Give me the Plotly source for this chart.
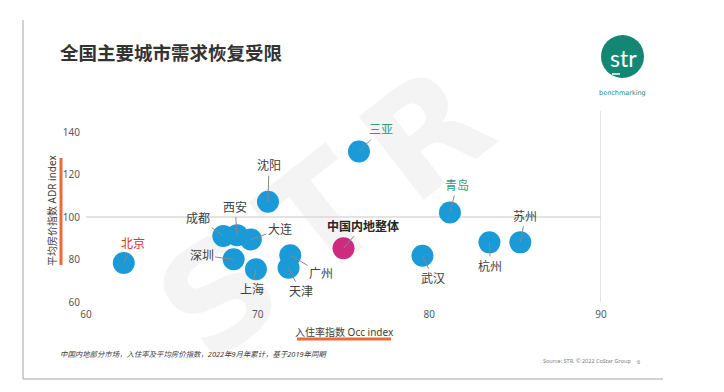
import base64
import plotly.graph_objects as go

# ---------------- data ----------------
cities = ["北京", "成都", "西安", "大连", "深圳", "上海", "沈阳", "广州", "天津",
          "中国内地整体", "三亚", "武汉", "青岛", "杭州", "苏州"]
occ_index = [62.2, 68.0, 68.8, 69.6, 68.6, 69.9, 70.6, 71.9, 71.8,
             75.0, 75.9, 79.6, 81.2, 83.5, 85.3]
adr_index = [78.4, 91.1, 91.5, 89.5, 80.1, 75.4, 107.2, 82.0, 76.1,
             85.3, 130.9, 81.8, 102.2, 88.1, 88.1]
x_ticks = [60, 70, 80, 90]
y_ticks = [60, 80, 100, 120, 140]

title = "全国主要城市需求恢复受限"
x_title = "入住率指数 Occ index"
y_title = "平均房价指数 ADR index"
footnote = "中国内地部分市场，入住率及平均房价指数，2022年9月年累计，基于2019年同期"
source = "Source: STR. © 2022 CoStar Group"

# ---------------- styles / layout ----------------
W, H = 724, 392
L, R, T, B = 86, 123, 111, 90
PW, PH = W - L - R, H - T - B

BLUE = "#1A9AD6"
MAGENTA = "#CF2A7E"
TEAL = "#2E9E86"
RED = "#E8332A"
ORANGE = "#EC6A37"
TXT = "#404040"
FONT = "Noto Sans, Noto Sans CJK SC, sans-serif"

# label offsets in pixels (ax, ay) and style
label_style = {
    "北京": (9, -19, RED, False),
    "成都": (-25, -18, TXT, False),
    "西安": (-2, -28, TXT, False),
    "大连": (29, -10, TXT, False),
    "深圳": (-32, -4, TXT, False),
    "上海": (-4, 20, TXT, False),
    "沈阳": (1, -36, TXT, False),
    "广州": (31, 18, TXT, False),
    "天津": (12, 24, TXT, False),
    "中国内地整体": (19, -22, "#262626", True),
    "三亚": (22, -22, TEAL, False),
    "武汉": (11, 23, TXT, False),
    "青岛": (7, -27, TEAL, False),
    "杭州": (1, 24, TXT, False),
    "苏州": (5, -26, TXT, False),
}


def px(xp):
    return (xp - L) / PW


def py(yp):
    return (H - B - yp) / PH


colors = [MAGENTA if c == "中国内地整体" else BLUE for c in cities]

fig = go.Figure()
fig.add_trace(go.Scatter(
    x=occ_index, y=adr_index, mode="markers",
    marker=dict(size=22, color=colors, line=dict(width=0), opacity=1),
    hoverinfo="text", text=cities, showlegend=False,
))

annotations = []
for c, xv, yv in zip(cities, occ_index, adr_index):
    ax, ay, col, bold = label_style[c]
    txt = f"<b>{c}</b>" if bold else c
    annotations.append(dict(
        x=xv, y=yv, xref="x", yref="y", text=txt, showarrow=True,
        arrowhead=0, arrowwidth=1, arrowcolor="#8a8a8a", standoff=0,
        ax=ax, ay=ay, font=dict(size=12, color=col, family=FONT),
    ))

# title
annotations.append(dict(x=px(58), y=py(52), xref="paper", yref="paper",
                        xanchor="left", yanchor="middle", showarrow=False,
                        text=f"<b>{title}</b>",
                        font=dict(size=18.5, color="#333333", family=FONT)))
# axis titles
annotations.append(dict(x=px(344), y=py(331.5), xref="paper", yref="paper",
                        xanchor="center", yanchor="middle", showarrow=False,
                        text=x_title, font=dict(size=10, color=TXT, family=FONT)))
annotations.append(dict(x=px(52), y=py(211), xref="paper", yref="paper",
                        xanchor="center", yanchor="middle", showarrow=False,
                        textangle=-90,
                        text=y_title, font=dict(size=10, color=TXT, family=FONT)))
# footnote & source
annotations.append(dict(x=px(58), y=py(354), xref="paper", yref="paper",
                        xanchor="left", yanchor="middle", showarrow=False,
                        text=f"<i>{footnote}</i>",
                        font=dict(size=7.4, color=TXT, family=FONT)))
annotations.append(dict(x=px(541), y=py(361), xref="paper", yref="paper",
                        xanchor="left", yanchor="middle", showarrow=False,
                        text=source, font=dict(size=5.5, color="#808080", family=FONT)))
annotations.append(dict(x=px(638), y=py(362), xref="paper", yref="paper",
                        xanchor="center", yanchor="middle", showarrow=False,
                        text="6", font=dict(size=5.5, color="#808080", family=FONT)))
# logo text
annotations.append(dict(x=px(623), y=py(58), xref="paper", yref="paper",
                        xanchor="center", yanchor="middle", showarrow=False,
                        text="str", font=dict(size=23, color="white", family="Lato, Open Sans, sans-serif")))
annotations.append(dict(x=px(622.5), y=py(93), xref="paper", yref="paper",
                        xanchor="center", yanchor="middle", showarrow=False,
                        text="benchmarking", font=dict(size=6.5, color="#1E8C77", family="DejaVu Sans, sans-serif")))

shapes = [
    # reference lines
    dict(type="line", xref="x", yref="y", x0=60, x1=90, y0=100, y1=100,
         line=dict(color="#DADADA", width=1.5), layer="below"),
    dict(type="line", xref="x", yref="y", x0=90, x1=90, y0=60, y1=150,
         line=dict(color="#DADADA", width=1.5), layer="below"),
    # orange accents
    dict(type="line", xref="paper", yref="paper", x0=px(61), x1=px(61), y0=py(158), y1=py(265),
         line=dict(color=ORANGE, width=3)),
    dict(type="line", xref="paper", yref="paper", x0=px(297), x1=px(391), y0=py(339), y1=py(339),
         line=dict(color=ORANGE, width=3)),
    # slide border
    dict(type="line", xref="paper", yref="paper", x0=px(23), x1=px(23), y0=py(20), y1=py(379),
         line=dict(color="#A6A6A6", width=1)),
    dict(type="line", xref="paper", yref="paper", x0=px(23), x1=px(663), y0=py(379), y1=py(379),
         line=dict(color="#A6A6A6", width=1)),
    # logo circle
    dict(type="circle", xref="paper", yref="paper", x0=px(601), x1=px(644), y0=py(35), y1=py(78),
         fillcolor="#148774", line=dict(width=0)),
    dict(type="line", xref="paper", yref="paper", x0=px(612), x1=px(620), y0=py(74), y1=py(74),
         line=dict(color="white", width=1.5)),
]

# watermark
svg = ('<svg xmlns="http://www.w3.org/2000/svg" width="724" height="392" viewBox="0 0 724 392">'
       '<text x="335" y="205" transform="rotate(-38 335 205)" font-family="DejaVu Sans, sans-serif" '
       'font-weight="bold" font-size="145" fill="#F4F4F4" text-anchor="middle" '
       'dominant-baseline="central" letter-spacing="28">STR</text></svg>')
src = "data:image/svg+xml;base64," + base64.b64encode(svg.encode("utf-8")).decode("ascii")

fig.update_layout(
    width=W, height=H,
    margin=dict(l=L, r=R, t=T, b=B, pad=0),
    paper_bgcolor="white", plot_bgcolor="rgba(0,0,0,0)",
    font=dict(family=FONT, color="#595959"),
    annotations=annotations, shapes=shapes,
    images=[dict(source=src, xref="paper", yref="paper", x=px(0), y=py(0),
                 sizex=W / PW, sizey=H / PH, xanchor="left", yanchor="top",
                 sizing="stretch", layer="below")],
    xaxis=dict(range=[60, 90], tickvals=x_ticks, showgrid=False, zeroline=False,
               showline=False, ticks="", tickfont=dict(size=10, color="#595959"),
               ticklabelstandoff=5, fixedrange=True),
    yaxis=dict(range=[60, 150], tickvals=y_ticks, showgrid=False, zeroline=False,
               showline=False, ticks="", tickfont=dict(size=10, color="#595959"),
               ticklabelstandoff=5, fixedrange=True),
)

fig.write_html("out.html", config={"displayModeBar": False},
               post_script="document.body.style.margin='0';document.body.style.overflow='hidden';")
